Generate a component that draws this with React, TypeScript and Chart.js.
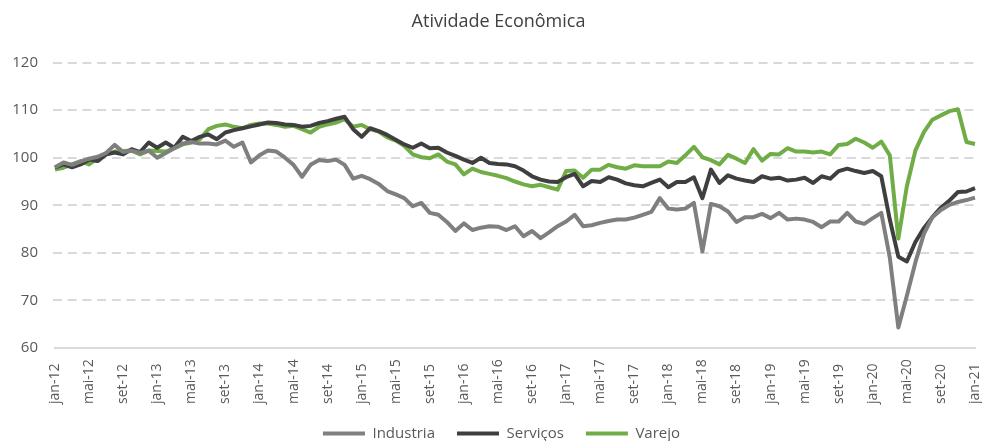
import React, { useEffect, useRef } from "react";
import { Chart, registerables } from "chart.js";

Chart.register(...registerables);

const MONTHS = ["jan", "fev", "mar", "abr", "mai", "jun", "jul", "ago", "set", "out", "nov", "dez"];
const YEARS = ["12", "13", "14", "15", "16", "17", "18", "19", "20", "21"];
const LABELS: string[] = [];
YEARS.forEach((y) => MONTHS.forEach((m) => LABELS.push(m + "-" + y)));
LABELS.length = 109; // jan-12 .. jan-21

const INDUSTRIA = [
  98.0, 99.0, 98.5, 99.2, 99.8, 100.2, 101.0, 102.7, 101.2, 101.5, 101.0, 101.5,
  100.0, 101.0, 102.0, 103.0, 103.3, 103.0, 103.0, 102.8, 103.6, 102.3, 103.2, 99.0,
  100.5, 101.5, 101.3, 100.0, 98.5, 96.0, 98.5, 99.5, 99.3, 99.6, 98.5, 95.6,
  96.2, 95.5, 94.5, 93.0, 92.3, 91.5, 89.8, 90.5, 88.4, 88.0, 86.5, 84.6,
  86.2, 84.8, 85.3, 85.6, 85.5, 84.8, 85.6, 83.5, 84.6, 83.1, 84.3, 85.6,
  86.6, 88.0, 85.6, 85.8, 86.3, 86.7, 87.0, 87.0, 87.4, 88.0, 88.6, 91.5,
  89.3, 89.1, 89.3, 90.5, 80.3, 90.3, 89.8, 88.7, 86.5, 87.5, 87.5, 88.2,
  87.3, 88.4, 87.0, 87.2, 87.0, 86.5, 85.4, 86.6, 86.6, 88.4, 86.6, 86.1,
  87.3, 88.4, 79.0, 64.3, 71.0, 78.0, 84.0, 87.5, 89.0, 90.1, 90.7, 91.1,
  91.6,
];

const SERVICOS = [
  97.9, 98.6, 98.0, 98.6, 99.6, 99.3, 100.7, 101.1, 100.7, 101.8, 101.2, 103.2,
  102.1, 103.2, 102.1, 104.4, 103.5, 104.4, 104.9, 103.9, 105.3, 105.8, 106.2, 106.6,
  107.0, 107.4, 107.3, 107.0, 106.9, 106.5, 106.7, 107.3, 107.7, 108.2, 108.6, 106.0,
  104.4, 106.2, 105.6, 104.8, 103.8, 102.8, 102.1, 103.0, 102.0, 102.1, 101.1, 100.4,
  99.6, 98.9, 100.0, 98.9, 98.7, 98.6, 98.2, 97.3, 96.1, 95.4, 95.0, 94.9,
  95.9, 96.6, 94.0, 95.1, 94.9, 95.9, 95.4, 94.6, 94.2, 94.0, 94.7, 95.4,
  93.8, 94.9, 94.9, 95.9, 91.5, 97.5, 94.7, 96.3, 95.6, 95.2, 94.9, 96.1,
  95.6, 95.8, 95.2, 95.4, 95.8, 94.7, 96.1, 95.6, 97.2, 97.7, 97.2, 96.8,
  97.2, 96.1, 87.0, 79.2, 78.2, 82.3, 85.2, 87.5, 89.5, 91.0, 92.8, 92.9,
  93.6,
];

const VAREJO = [
  97.5, 97.9, 98.6, 99.3, 98.6, 99.9, 100.7, 101.3, 101.4, 101.5, 100.7, 101.5,
  101.4, 101.3, 102.0, 102.8, 103.2, 103.9, 106.0, 106.7, 107.0, 106.5, 106.2, 106.9,
  107.2, 107.2, 106.9, 106.5, 106.7, 106.0, 105.3, 106.5, 107.0, 107.4, 108.1, 106.5,
  106.9, 106.0, 105.5, 104.3, 103.6, 102.5, 100.7, 100.1, 99.9, 100.7, 99.2, 98.6,
  96.5, 97.7, 97.0, 96.6, 96.2, 95.7, 95.0, 94.4, 94.0, 94.3, 93.8, 93.3,
  97.2, 97.3, 95.8, 97.5, 97.5, 98.5, 98.0, 97.7, 98.4, 98.2, 98.2, 98.2,
  99.2, 98.9, 100.5, 102.3, 100.1, 99.5, 98.6, 100.6, 99.8, 98.9, 101.8, 99.4,
  100.8, 100.7, 102.0, 101.3, 101.3, 101.1, 101.3, 100.7, 102.7, 102.9, 104.0, 103.2,
  102.1, 103.4, 100.5, 83.0, 94.0, 101.5, 105.4, 108.0, 108.9, 109.8, 110.2, 103.3,
  102.9,
];

const SERIES_NAMES = ["Industria", "Serviços", "Varejo"];
const SERIES_COLORS = ["#7f7f7f", "#3f3f3f", "#70ad47"];
const Y_TICKS = [60, 70, 80, 90, 100, 110, 120];

const FONT = "'Open Sans', 'DejaVu Sans', sans-serif";

// dashed horizontal grid lines drawn at the y-scale tick values
const dashedGrid = {
  id: "dashedGrid",
  beforeDatasetsDraw(c: any) {
    const { ctx, chartArea } = c;
    const ys = c.scales.y;
    ctx.save();
    ctx.strokeStyle = "#d9d9d9";
    ctx.lineWidth = 2;
    ctx.setLineDash([9, 5.7]);
    Y_TICKS.forEach((v) => {
      if (v === ys.min) return;
      const y = Math.round(ys.getPixelForValue(v));
      ctx.beginPath();
      ctx.moveTo(chartArea.left - 2, y);
      ctx.lineTo(chartArea.right + 3, y);
      ctx.stroke();
    });
    ctx.restore();
  },
};

// vertical category labels, aligned at their start like the original
const xLabels = {
  id: "xLabels",
  afterDraw(c: any) {
    const { ctx } = c;
    const xs = c.scales.x;
    ctx.save();
    ctx.font = "14px " + FONT;
    ctx.fillStyle = "#595959";
    ctx.textAlign = "left";
    ctx.textBaseline = "middle";
    LABELS.forEach((lab, i) => {
      if (i % 4 !== 0) return;
      const x = xs.getPixelForValue(i);
      ctx.save();
      ctx.translate(x, xs.bottom);
      ctx.rotate(-Math.PI / 2);
      ctx.fillText(lab, 0, 0);
      ctx.restore();
    });
    ctx.restore();
  },
};

// nudge title and legend to the horizontal centre used by the original
const nudge = {
  id: "nudge",
  afterLayout(c: any) {
    if (c.legend) {
      c.legend.left += 10;
      c.legend.right += 10;
    }
    if (c.titleBlock) {
      c.titleBlock.left += 7;
      c.titleBlock.right += 7;
    }
  },
};

export default function App() {
  const ref = useRef<HTMLCanvasElement | null>(null);

  useEffect(() => {
    if (!ref.current) return;
    const values = [INDUSTRIA, SERVICOS, VAREJO];
    const chart = new Chart(ref.current, {
      type: "line",
      data: {
        labels: LABELS,
        datasets: SERIES_NAMES.map((name, k) => ({
          label: name,
          data: values[k],
          borderColor: SERIES_COLORS[k],
          backgroundColor: SERIES_COLORS[k],
          borderWidth: 4,
          borderJoinStyle: "round" as const,
          pointRadius: 0,
          tension: 0,
          fill: false,
        })),
      },
      plugins: [dashedGrid, xLabels, nudge],
      options: {
        animation: false,
        responsive: false,
        layout: { padding: { left: 8, right: 7, top: 0, bottom: -10 } },
        plugins: {
          title: {
            display: true,
            text: "Atividade Econômica",
            color: "#404040",
            font: { family: FONT, size: 18, weight: "normal" },
            padding: { top: 11, bottom: 30 },
          },
          legend: {
            position: "bottom",
            labels: {
              color: "#595959",
              font: { family: FONT, size: 15 },
              boxWidth: 42,
              boxHeight: 4,
              padding: 22,
              generateLabels: (c: any) => {
                const items = Chart.defaults.plugins.legend.labels.generateLabels(c);
                items.forEach((it: any) => {
                  it.lineWidth = 0;
                });
                return items;
              },
            },
          },
          tooltip: { enabled: false },
        },
        scales: {
          x: {
            type: "category",
            offset: false,
            grid: { display: false, drawTicks: false },
            border: { display: true, color: "#d9d9d9", width: 2 },
            afterFit: (s: any) => {
              s.paddingLeft = 0;
              s.paddingRight = 0;
              s.height = 56;
            },
            ticks: { display: false, autoSkip: false },
          },
          y: {
            min: 60,
            max: 120,
            afterBuildTicks: (s: any) => {
              s.ticks = Y_TICKS.map((v) => ({ value: v }));
            },
            afterFit: (s: any) => {
              s.width = 47;
            },
            grid: { display: false, drawTicks: false },
            border: { display: false },
            ticks: {
              padding: 17,
              color: "#595959",
              font: { family: FONT, size: 15 },
            },
          },
        },
      },
    });
    return () => chart.destroy();
  }, []);

  return (
    <div style={{ position: "fixed", left: 0, top: 0, width: 982, height: 441, background: "#fff" }}>
      <canvas ref={ref} width={982} height={441} style={{ display: "block" }} />
    </div>
  );
}
